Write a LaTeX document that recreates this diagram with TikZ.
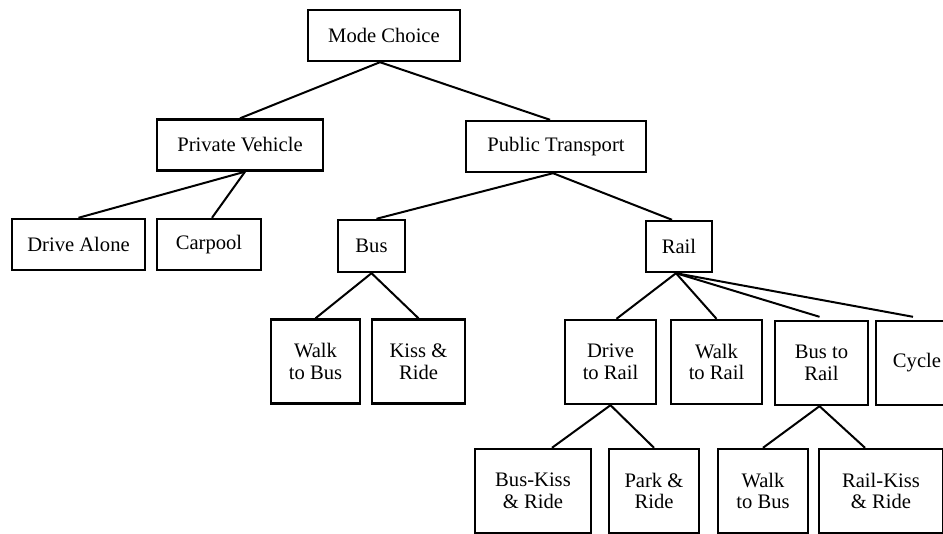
\documentclass[tikz,border=0pt]{standalone}
\usepackage{fontspec}
\setmainfont{Liberation Serif}

\begin{document}
\begin{tikzpicture}[x=0.5pt, y=-0.5pt,
  modebox/.style={draw, line width=1.2pt, inner sep=0pt, align=center,
    font=\fontsize{10.3}{10.8}\selectfont},
  flatbox/.style={modebox, minimum height=25.5pt},
  tallbox/.style={modebox, minimum height=42pt},
  link/.style={line width=1pt}]

\useasboundingbox (0,0) rectangle (943,534);
\clip (0,0) rectangle (943,534);

%%% TOP LEVELS
\node[flatbox, minimum width=76pt] (mode) at (384,35.5) {Mode Choice};
\node[flatbox, minimum width=83pt] (priv) at (240,145) {Private Vehicle};
\node[flatbox, minimum width=90pt] (pub) at (556,146.5) {Public Transport};

%%% PRIVATE VEHICLE
\node[flatbox, minimum width=66.5pt] (alone) at (78.5,244.5) {Drive Alone};
\node[flatbox, minimum width=52pt] (carpool) at (209,244.5) {Carpool};

%%% PUBLIC TRANSPORT
\node[flatbox, minimum width=33.5pt, minimum height=26pt] (bus) at (371.5,246) {Bus};
\node[flatbox, minimum width=33pt] (rail) at (679,246.5) {Rail};

\node[tallbox, minimum width=44.5pt] (walkbus) at (315.5,361.5) {Walk\\to Bus};
\node[tallbox, minimum width=46.5pt] (kiss) at (418.5,361.5) {Kiss \&\\Ride};

\node[tallbox, minimum width=45.5pt] (driverail) at (610.5,362) {Drive\\to Rail};
\node[tallbox, minimum width=45.5pt] (walkrail) at (716.5,362) {Walk\\to Rail};
\node[tallbox, minimum width=46.5pt] (busrail) at (821.5,363) {Bus to\\Rail};
\node[tallbox, minimum width=41pt] (cycle) at (917,363) {Cycle};

%%% ACCESS TO RAIL
\node[tallbox, minimum width=58pt] (buskiss) at (533,491) {Bus-Kiss\\\& Ride};
\node[tallbox, minimum width=45pt] (park) at (654,491) {Park \&\\Ride};
\node[tallbox, minimum width=45pt] (walkbus2) at (763,491) {Walk\\to Bus};
\node[tallbox, minimum width=62pt] (railkiss) at (881,491) {Rail-Kiss\\\& Ride};

%%% LINKS
\draw[link] ([xshift=-2pt]mode.south) -- (priv.north);
\draw[link] ([xshift=-2pt]mode.south) -- ([xshift=-3pt]pub.north);

\draw[link] ([xshift=2.5pt]priv.south) -- (alone.north);
\draw[link] ([xshift=2.5pt]priv.south) -- ([xshift=1.5pt]carpool.north);

\draw[link] ([xshift=-1.5pt]pub.south) -- ([xshift=2.5pt]bus.north);
\draw[link] ([xshift=-1.5pt]pub.south) -- ([xshift=-3.5pt]rail.north);

\draw[link] (bus.south) -- (walkbus.north);
\draw[link] (bus.south) -- (kiss.north);

\draw[link] ([xshift=-1.5pt]rail.south) -- ([xshift=3pt]driverail.north);
\draw[link] ([xshift=-1.5pt]rail.south) -- (walkrail.north);
\draw[link] ([xshift=-1.5pt]rail.south) -- ([xshift=-1pt, yshift=1.5pt]busrail.north);
\draw[link] ([xshift=-1.5pt]rail.south) -- ([xshift=-2pt, yshift=1.5pt]cycle.north);

\draw[link] (driverail.south) -- ([xshift=9.5pt]buskiss.north);
\draw[link] (driverail.south) -- (park.north);

\draw[link] ([xshift=-1pt]busrail.south) -- (walkbus2.north);
\draw[link] ([xshift=-1pt]busrail.south) -- ([xshift=-8pt]railkiss.north);

\end{tikzpicture}
\end{document}
